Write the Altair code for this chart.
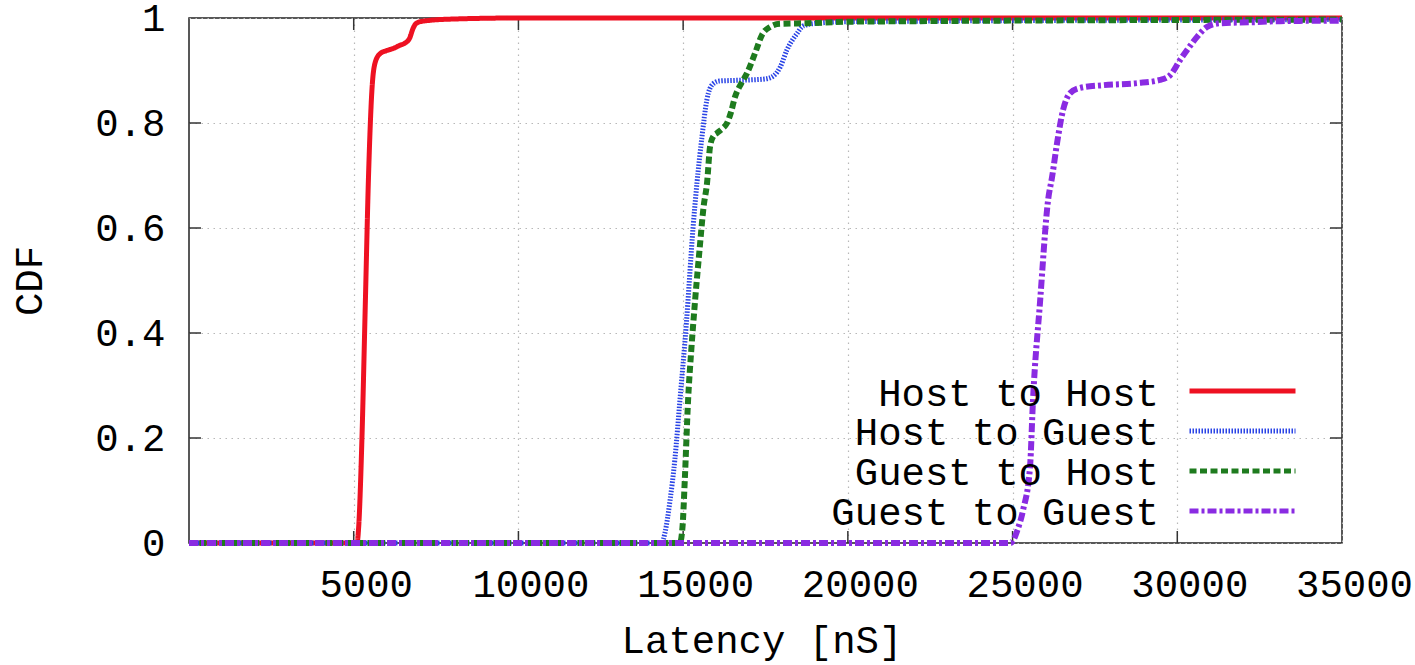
import altair as alt
import pandas as pd

# ---------------- data ----------------
series_names = ["Host to Host", "Host to Guest", "Guest to Host", "Guest to Guest"]
series_colors = ["#ee1122", "#2a44e6", "#1e7b1e", "#8a2be2"]
series_dashes = [[1, 0], [1.5, 1.5], [7, 3.5], [9, 3, 3, 3]]
series_widths = [5, 5, 6, 6]

h2h_x = [0, 5100, 5150, 5250, 5350, 5450, 5550, 5650, 5800, 6000, 6200, 6400, 6550, 6700, 6800, 6900, 7100, 8000, 10000, 35000]
h2h_y = [0, 0, 0.03, 0.2, 0.45, 0.7, 0.86, 0.915, 0.932, 0.938, 0.942, 0.948, 0.952, 0.962, 0.98, 0.99, 0.994, 0.998, 1.0, 1.0]

h2g_x = [0, 14350, 14450, 14600, 14750, 14900, 15100, 15300, 15420, 15570, 15720, 15900, 16100, 16500, 17000, 17500, 17750, 17950, 18150, 18450, 18650, 19050, 20000, 35000]
h2g_y = [0, 0, 0.02, 0.08, 0.16, 0.27, 0.42, 0.6, 0.686, 0.773, 0.844, 0.874, 0.88, 0.881, 0.882, 0.884, 0.89, 0.907, 0.939, 0.97, 0.985, 0.99, 0.993, 0.997]

g2h_x = [0, 14900, 14980, 15050, 15150, 15250, 15360, 15500, 15620, 15726, 15817, 15920, 16030, 16200, 16333, 16450, 16576, 16760, 16940, 17183, 17395, 17638, 17942, 18760, 20000, 35000]
g2h_y = [0, 0, 0.03, 0.12, 0.272, 0.37, 0.46, 0.56, 0.64, 0.686, 0.755, 0.775, 0.781, 0.79, 0.8, 0.82, 0.85, 0.875, 0.895, 0.933, 0.968, 0.983, 0.989, 0.99, 0.993, 0.997]

g2g_x = [0, 24950, 25020, 25150, 25320, 25530, 25620, 25835, 26078, 26199, 26351, 26533, 26746, 27049, 27748, 28780, 29478, 29782, 30085, 30298, 30601, 30905, 31300, 32300, 33120, 35000]
g2g_y = [0, 0, 0.005, 0.025, 0.063, 0.145, 0.272, 0.46, 0.653, 0.697, 0.762, 0.825, 0.857, 0.867, 0.872, 0.876, 0.882, 0.891, 0.92, 0.939, 0.964, 0.983, 0.99, 0.992, 0.994, 0.995]

x_ticks = [5000, 10000, 15000, 20000, 25000, 30000, 35000]
y_ticks = [0, 0.2, 0.4, 0.6, 0.8, 1.0]
x_inner_ticks = [5000, 10000, 15000, 20000, 25000, 30000]
y_inner_ticks = [0.2, 0.4, 0.6, 0.8]

# ---------------- layout ----------------
W, H = 1153, 525
FONT = "Liberation Mono"
FS = 39

xs = [h2h_x, h2g_x, g2h_x, g2g_x]
ys = [h2h_y, h2g_y, g2h_y, g2g_y]

x_scale = alt.Scale(domain=[0, 35000], nice=False, zero=False)
y_scale = alt.Scale(domain=[0, 1], nice=False, zero=False)

x_axis = alt.Axis(
    values=x_ticks, format="d", title="Latency [nS]",
    labelFont=FONT, labelFontSize=FS, labelColor="#000", labelPadding=22, labelOffset=12,
    labelFlush=False, labelOverlap=False, ticks=False, tickSize=0, domain=False,
    grid=True, gridColor="#b8b8b8", gridDash=[1.5, 4.5], gridWidth=1.2,
    titleFont=FONT, titleFontSize=FS, titleFontWeight="normal", titleColor="#000",
    titleX=W / 2 - 4, titleY=109, titleBaseline="alphabetic", titleAlign="center",
)
y_axis = alt.Axis(
    values=y_ticks, format="~g", title="CDF",
    labelFont=FONT, labelFontSize=FS, labelColor="#000", labelPadding=24,
    labelFlush=False, labelOverlap=False, ticks=False, tickSize=0, domain=False,
    grid=True, gridColor="#b8b8b8", gridDash=[1.5, 4.5], gridWidth=1.2,
    titleFont=FONT, titleFontSize=FS, titleFontWeight="normal", titleColor="#000",
    titleX=-160, titleY=H / 2, titleBaseline="middle", titleAlign="center", titleAngle=270,
)

# legend with line samples only (labels drawn as text to their left, gnuplot style)
sym_legend = alt.Legend(
    title=None, orient="none", legendX=998, legendY=353, direction="vertical",
    labelExpr="''", labelFontSize=1, labelLimit=1,
    symbolType="stroke", symbolSize=11236, symbolStrokeWidth=5, symbolOffset=0,
    clipHeight=40, rowPadding=0, padding=0,
)

color_enc = alt.Color("series:N", scale=alt.Scale(domain=series_names, range=series_colors), legend=sym_legend)
dash_enc = alt.StrokeDash("series:N", scale=alt.Scale(domain=series_names, range=series_dashes), legend=sym_legend)

# inner tick marks (gnuplot-style)
tick_col = "#333333"
xt_df = pd.DataFrame({"x": x_inner_ticks})
yt_df = pd.DataFrame({"y": y_inner_ticks})
tick_bottom = alt.Chart(xt_df).mark_rule(color=tick_col, strokeWidth=1.5).encode(
    x=alt.X("x:Q", scale=x_scale, axis=x_axis), y=alt.value(H), y2=alt.value(H - 12))
tick_top = alt.Chart(xt_df).mark_rule(color=tick_col, strokeWidth=1.5).encode(
    x=alt.X("x:Q", scale=x_scale), y=alt.value(0), y2=alt.value(12))
tick_left = alt.Chart(yt_df).mark_rule(color=tick_col, strokeWidth=1.5).encode(
    y=alt.Y("y:Q", scale=y_scale, axis=y_axis), x=alt.value(0), x2=alt.value(12))
tick_right = alt.Chart(yt_df).mark_rule(color=tick_col, strokeWidth=1.5).encode(
    y=alt.Y("y:Q", scale=y_scale), x=alt.value(W), x2=alt.value(W - 12))

layers = [tick_bottom, tick_top, tick_left, tick_right]
for name, xv, yv, w in zip(series_names, xs, ys, series_widths):
    df = pd.DataFrame({"x": xv, "y": yv, "series": name})
    layers.append(
        alt.Chart(df).mark_line(strokeWidth=w, interpolate="monotone", clip=False).encode(
            x=alt.X("x:Q", scale=x_scale),
            y=alt.Y("y:Q", scale=y_scale),
            color=color_enc,
            strokeDash=dash_enc,
        )
    )

# legend texts (right-aligned, left of the line samples)
LEG_TEXT_X = 970
LEG_ROW0 = 375.5
LEG_ROW_STEP = 39.7
for i, name in enumerate(series_names):
    layers.append(
        alt.Chart(pd.DataFrame({"label": [name]})).mark_text(
            align="right", baseline="middle", font=FONT, fontSize=FS, color="#000"
        ).encode(
            text="label:N",
            x=alt.value(LEG_TEXT_X),
            y=alt.value(LEG_ROW0 + i * LEG_ROW_STEP),
        )
    )

chart = alt.layer(*layers).properties(
    width=W, height=H,
    autosize=alt.AutoSizeParams(type="none"),
    padding={"left": 189, "top": 18, "right": 1415 - 189 - W, "bottom": 665 - 18 - H},
    background="white",
).configure_view(stroke="#222222", strokeWidth=1.5)

chart.save("out.html", embed_options={"renderer": "svg", "actions": False})
